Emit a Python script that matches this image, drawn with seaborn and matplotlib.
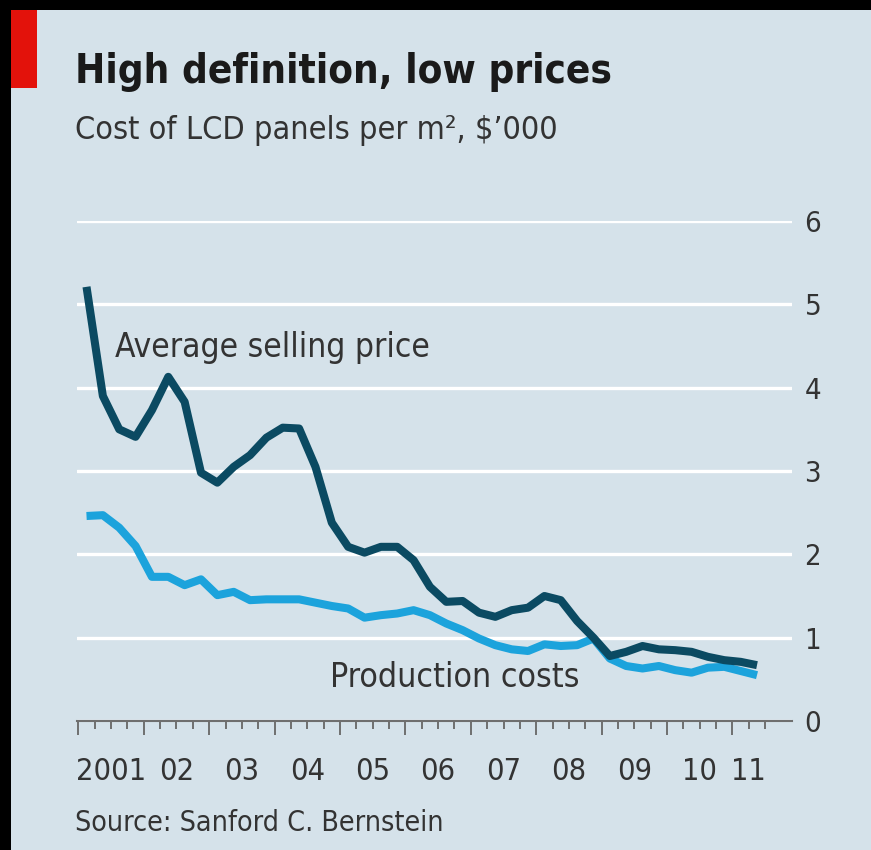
import numpy as np
import pandas as pd
import matplotlib.pyplot as plt
import seaborn as sns
from matplotlib.patches import Rectangle

# quarterly data, 2001Q1 - 2011Q2, $'000 per m2
quarters = pd.period_range("2001Q1", "2011Q2", freq="Q")
selling_price = [5.21, 3.90, 3.50, 3.41, 3.73, 4.13, 3.83, 2.98, 2.86, 3.05,
                 3.19, 3.40, 3.52, 3.51, 3.05, 2.38, 2.09, 2.02, 2.09, 2.09,
                 1.93, 1.61, 1.43, 1.44, 1.30, 1.25, 1.33, 1.36, 1.50, 1.45,
                 1.20, 1.00, 0.78, 0.83, 0.90, 0.86, 0.85, 0.83, 0.77, 0.73,
                 0.71, 0.67]
production_cost = [2.46, 2.47, 2.32, 2.10, 1.73, 1.73, 1.63, 1.70, 1.51, 1.55,
                   1.45, 1.46, 1.46, 1.46, 1.42, 1.38, 1.35, 1.24, 1.27, 1.29,
                   1.33, 1.27, 1.17, 1.09, 0.99, 0.91, 0.86, 0.84, 0.92, 0.90,
                   0.91, 0.99, 0.75, 0.66, 0.63, 0.66, 0.61, 0.58, 0.64, 0.65,
                   0.60, 0.55]
year_labels = ["2001", "02", "03", "04", "05", "06", "07", "08", "09", "10", "11"]
y_ticks = [0, 1, 2, 3, 4, 5, 6]

bg = "#d5e2ea"
dark = "#0b4a62"
light = "#1ca3dc"
txt = "#333333"

# quarter midpoints as decimal years
xq = np.array([q.year + (q.quarter - 1) / 4 + 0.125 for q in quarters])
df = pd.DataFrame({
    "x": np.concatenate([xq, xq]),
    "value": selling_price + production_cost,
    "series": ["Average selling price"] * len(xq) + ["Production costs"] * len(xq),
})

sns.set_style("white")
plt.rcParams["font.family"] = ["DejaVu Sans"]
plt.rcParams["font.stretch"] = "condensed"

W, H = 871, 850
fig = plt.figure(figsize=(W / 100, H / 100), dpi=100)
fig.patch.set_facecolor("black")
fig.patches.append(Rectangle((11 / W, 0), 1, 1 - 10 / H, transform=fig.transFigure,
                             facecolor=bg, edgecolor="none", zorder=-1))
fig.patches.append(Rectangle((11 / W, 1 - 88 / H), 26 / W, 78 / H, transform=fig.transFigure,
                             facecolor="#e3120b", edgecolor="none"))

left, right, bottom, top = 76.7, 792, 721, 221
ax = fig.add_axes([left / W, 1 - bottom / H, (right - left) / W, (bottom - top) / H])
ax.set_facecolor("none")

ax.set_ylim(0, 6)
ax.set_xlim(2000.975, 2011.91)
ax.yaxis.grid(True, color="white", lw=2.4)
ax.set_axisbelow(True)

sns.lineplot(data=df, x="x", y="value", hue="series",
             palette={"Average selling price": dark, "Production costs": light},
             hue_order=["Production costs", "Average selling price"],
             lw=5.8, ax=ax, legend=False, clip_on=False)
for ln in ax.lines:
    ln.set_solid_capstyle("butt")
    ln.set_solid_joinstyle("round")

for s in ["top", "left", "right"]:
    ax.spines[s].set_visible(False)
ax.spines["bottom"].set_color("#6f6f6f")
ax.spines["bottom"].set_linewidth(1.5)

ax.set_xlabel("")
ax.set_ylabel("")
ax.set_xticks(np.arange(2001, 2012))
ax.set_xticks(np.arange(2001, 2011.6, 0.25), minor=True)
ax.tick_params(axis="x", which="both", bottom=True, direction="out", labelbottom=False)
ax.tick_params(axis="x", which="major", length=10, width=1.4, color="#6f6f6f")
ax.tick_params(axis="x", which="minor", length=6, width=1.4, color="#6f6f6f")

ax.set_yticks(y_ticks)
ax.yaxis.tick_right()
ax.tick_params(axis="y", length=0, pad=9, labelsize=21, labelcolor=txt)

label_x = [y + 0.5 for y in range(2001, 2011)] + [2011.25]
for xv, lab in zip(label_x, year_labels):
    ax.text(xv, -0.6, lab, ha="center", va="center", fontsize=22, color=txt, clip_on=False)

ax.text(2001.56, 4.48, "Average selling price", ha="left", va="center", fontsize=24, color=txt)
ax.text(2004.85, 0.52, "Production costs", ha="left", va="center", fontsize=24.3, color=txt)

fig.text(75 / W, 1 - 72 / H, "High definition, low prices", ha="left", va="center",
         fontsize=29, fontweight="bold", color="#1a1a1a")
fig.text(75 / W, 1 - 130 / H, "Cost of LCD panels per m², $’000", ha="left", va="center",
         fontsize=23.2, color=txt)
fig.text(75 / W, 1 - 823 / H, "Source: Sanford C. Bernstein", ha="left", va="center",
         fontsize=20.5, color=txt)

fig.savefig("out.png", dpi=100, facecolor=fig.get_facecolor())
